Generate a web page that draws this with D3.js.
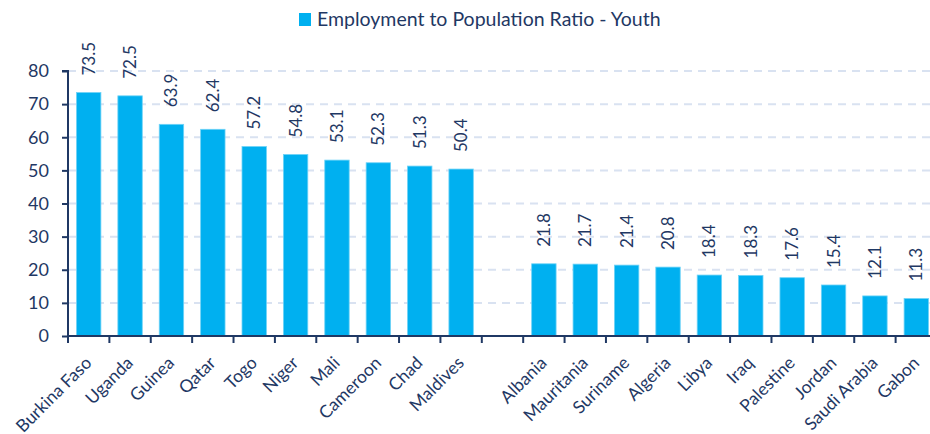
<!DOCTYPE html>
<html>
<head>
<meta charset="utf-8">
<script src="https://cdn.jsdelivr.net/npm/d3@7"></script>
<style>
  html, body { margin: 0; padding: 0; background: #fff; }
  svg { display: block; font-family: Lato, "Open Sans", sans-serif; }
</style>
</head>
<body>
<svg id="chart" width="930" height="434"></svg>
<script>
// Countries, with an empty slot separating the two groups
const countries = ["Burkina Faso", "Uganda", "Guinea", "Qatar", "Togo", "Niger", "Mali", "Cameroon", "Chad", "Maldives",
  "", "Albania", "Mauritania", "Suriname", "Algeria", "Libya", "Iraq", "Palestine", "Jordan", "Saudi Arabia", "Gabon"];
const youthRatio = [73.5, 72.5, 63.9, 62.4, 57.2, 54.8, 53.1, 52.3, 51.3, 50.4,
  null, 21.8, 21.7, 21.4, 20.8, 18.4, 18.3, 17.6, 15.4, 12.1, 11.3];
const yTicks = [0, 10, 20, 30, 40, 50, 60, 70, 80];
const seriesName = "Employment to Population Ratio - Youth";

const barColor = "#00B0F0";
const inkColor = "#1F3864";
const gridColor = "#D9E2F1";

const svg = d3.select("#chart");
const plotLeft = 68, plotRight = 937, plotTop = 71, plotBottom = 336;

const x = d3.scaleBand().domain(d3.range(countries.length)).range([plotLeft, plotRight]).paddingInner(0.41).paddingOuter(0.205);
const y = d3.scaleLinear().domain([0, 80]).range([plotBottom, plotTop]);

// Dashed horizontal gridlines
svg.append("g").selectAll("line")
  .data(yTicks.filter(d => d > 0))
  .join("line")
  .attr("x1", plotLeft).attr("x2", plotRight)
  .attr("y1", d => y(d)).attr("y2", d => y(d))
  .attr("stroke", gridColor).attr("stroke-width", 2)
  .attr("stroke-dasharray", "8,6");

// Bars
const rows = countries.map((c, i) => ({ i, c, v: youthRatio[i] })).filter(d => d.v != null);
svg.append("g").selectAll("rect")
  .data(rows)
  .join("rect")
  .attr("x", d => x(d.i))
  .attr("width", x.bandwidth())
  .attr("y", d => y(d.v))
  .attr("height", d => y(0) - y(d.v))
  .attr("fill", barColor)
  .attr("stroke", "#6FD3F7").attr("stroke-width", 0.8);

// Value labels, rotated above each bar
svg.append("g").selectAll("text")
  .data(rows)
  .join("text")
  .attr("transform", d => `translate(${x(d.i) + x.bandwidth() / 2 + 6},${y(d.v) - 17}) rotate(-90)`)
  .attr("text-anchor", "start")
  .attr("fill", inkColor)
  .attr("font-size", 17)
  .text(d => d.v.toFixed(1));

// Y axis
const yAxis = svg.append("g").attr("transform", `translate(${plotLeft},0)`)
  .call(d3.axisLeft(y).tickValues(yTicks).tickSize(6).tickPadding(13));
yAxis.select(".domain").attr("stroke", inkColor).attr("stroke-width", 2).attr("d", `M-6,${plotTop}H0V${plotBottom}`);
yAxis.selectAll(".tick line").attr("stroke", inkColor).attr("stroke-width", 2);
yAxis.selectAll(".tick text").attr("fill", inkColor).attr("font-size", 18).attr("font-family", "Lato, sans-serif");

// X axis line with ticks at band boundaries
const xg = svg.append("g");
xg.append("line").attr("x1", plotLeft).attr("x2", plotRight).attr("y1", plotBottom).attr("y2", plotBottom)
  .attr("stroke", inkColor).attr("stroke-width", 2);
const step = x.step();
xg.selectAll("line.tk")
  .data(d3.range(countries.length + 1))
  .join("line").attr("class", "tk")
  .attr("x1", i => plotLeft + i * step).attr("x2", i => plotLeft + i * step)
  .attr("y1", plotBottom).attr("y2", plotBottom + 7)
  .attr("stroke", inkColor).attr("stroke-width", 2);

// Category labels, slanted
xg.selectAll("text")
  .data(countries.map((c, i) => ({ c, i })).filter(d => d.c))
  .join("text")
  .attr("transform", d => `translate(${x(d.i) + x.bandwidth() / 2 + 4},${plotBottom + 28}) rotate(-45)`)
  .attr("text-anchor", "end")
  .attr("fill", inkColor)
  .attr("font-size", 17.5)
  .text(d => d.c);

// Legend
const lg = svg.append("g").attr("transform", "translate(299,13)");
lg.append("rect").attr("width", 12).attr("height", 13).attr("fill", barColor);
lg.append("text").attr("x", 18).attr("y", 13).attr("fill", inkColor).attr("font-size", 19.5).text(seriesName);
</script>
</body>
</html>
